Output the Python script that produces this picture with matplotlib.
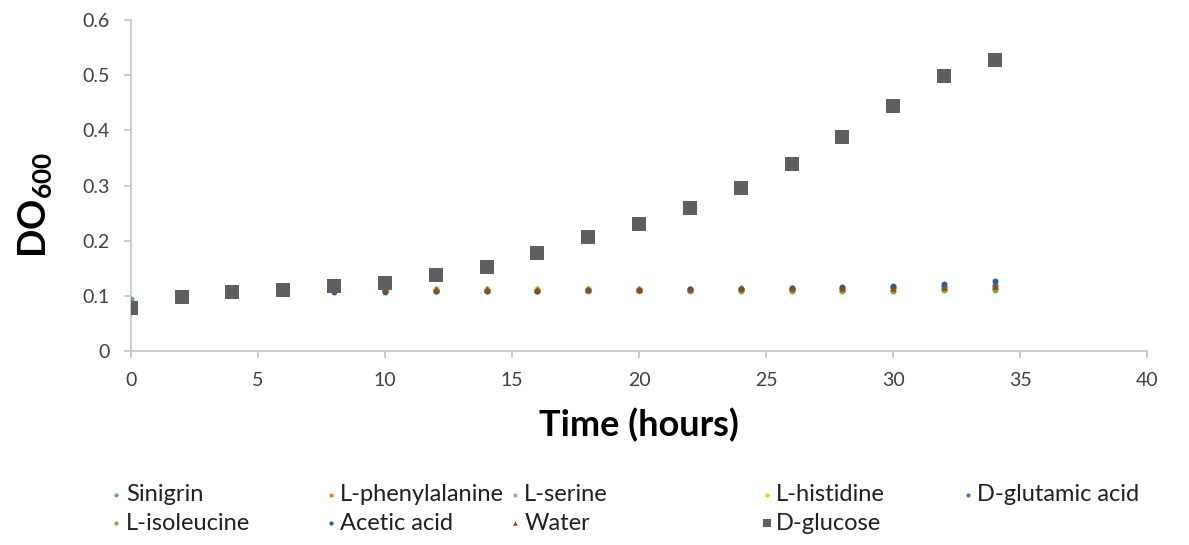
import matplotlib.pyplot as plt
from matplotlib.ticker import FormatStrFormatter

plt.rcParams['font.family'] = ['Lato', 'DejaVu Sans']
plt.rcParams['mathtext.fontset'] = 'custom'
plt.rcParams['mathtext.bf'] = 'Lato:bold'
plt.rcParams['mathtext.rm'] = 'Lato'

time = [0, 2, 4, 6, 8, 10, 12, 14, 16, 18, 20, 22, 24, 26, 28, 30, 32, 34]

sinigrin = [0.095, 0.100, 0.107, 0.108, 0.109, 0.110, 0.110, 0.110, 0.110, 0.111, 0.111, 0.112, 0.112, 0.113, 0.113, 0.114, 0.115, 0.116]
phenylalanine = [0.080, 0.100, 0.108, 0.109, 0.111, 0.112, 0.112, 0.112, 0.113, 0.113, 0.113, 0.113, 0.114, 0.114, 0.115, 0.115, 0.116, 0.117]
serine = [0.080, 0.100, 0.107, 0.108, 0.110, 0.110, 0.111, 0.111, 0.111, 0.112, 0.112, 0.112, 0.113, 0.113, 0.113, 0.114, 0.114, 0.115]
histidine = [0.080, 0.100, 0.107, 0.108, 0.110, 0.110, 0.111, 0.111, 0.112, 0.112, 0.112, 0.112, 0.113, 0.113, 0.113, 0.114, 0.114, 0.115]
glutamic = [0.080, 0.100, 0.107, 0.107, 0.108, 0.109, 0.109, 0.109, 0.109, 0.110, 0.110, 0.111, 0.112, 0.113, 0.114, 0.116, 0.118, 0.120]
isoleucine = [0.080, 0.100, 0.106, 0.107, 0.108, 0.108, 0.109, 0.109, 0.109, 0.109, 0.109, 0.108, 0.108, 0.108, 0.108, 0.109, 0.110, 0.110]
acetic = [0.080, 0.100, 0.107, 0.106, 0.107, 0.107, 0.108, 0.108, 0.109, 0.110, 0.111, 0.112, 0.113, 0.114, 0.116, 0.118, 0.122, 0.127]
water = [0.080, 0.100, 0.108, 0.109, 0.112, 0.112, 0.113, 0.112, 0.113, 0.113, 0.113, 0.113, 0.114, 0.114, 0.115, 0.115, 0.116, 0.117]
glucose = [0.078, 0.098, 0.107, 0.111, 0.118, 0.123, 0.138, 0.152, 0.178, 0.207, 0.230, 0.259, 0.295, 0.339, 0.388, 0.444, 0.498, 0.527]

names = ['Sinigrin', 'L-phenylalanine', 'L-serine', 'L-histidine', 'D-glutamic acid',
         'L-isoleucine', 'Acetic acid', 'Water', 'D-glucose']
series = [sinigrin, phenylalanine, serine, histidine, glutamic, isoleucine, acetic, water, glucose]
colors = ['#5B9BD5', '#ED7D31', '#A5A5A5', '#FFC000', '#4472C4', '#70AD47', '#255E91', '#9E480E', '#5f5f5f']
markers = ['o', 'o', 'o', 'o', 'o', 'o', 'o', '^', 's']
sizes = [18, 18, 18, 18, 18, 18, 18, 22, 95]

fig = plt.figure(figsize=(11.89, 5.45), dpi=100)
ax = fig.add_axes([0.110, 0.356, 0.855, 0.607])

handles = []
for name, ys, c, m, s in zip(names, series, colors, markers, sizes):
    h = ax.scatter(time, ys, s=s, c=c, marker=m, linewidths=0, label=name, zorder=3)
    handles.append(h)

ax.set_xlim(0, 40)
ax.set_ylim(0, 0.6)
ax.set_xticks(range(0, 41, 5))
ax.set_yticks([0, 0.1, 0.2, 0.3, 0.4, 0.5, 0.6])
ax.yaxis.set_major_formatter(FormatStrFormatter('%g'))
for sp in ['top', 'right']:
    ax.spines[sp].set_visible(False)
for sp in ['left', 'bottom']:
    ax.spines[sp].set_color('#c8c8c8')
    ax.spines[sp].set_linewidth(1.3)
ax.tick_params(colors='#c8c8c8', labelcolor='#404040', labelsize=14, length=5, width=1.3)
ax.tick_params(axis='x', pad=10)
ax.tick_params(axis='y', pad=10)
ax.set_xlabel('Time (hours)', fontsize=26, fontweight='bold', labelpad=14)
ax.set_ylabel(r'$\mathbf{DO_{600}}$', fontsize=27)
ax.yaxis.set_label_coords(-0.076, 0.44)

# legend, Excel-like: columns placed at fixed x positions
col_x = [0.095, 0.275, 0.430, 0.642, 0.811]
cols = [[0, 5], [1, 6], [2, 7], [3, 8], [4]]
for x, idx in zip(col_x, cols):
    leg = fig.legend([handles[i] for i in idx], [names[i] for i in idx],
                     loc='upper left', bbox_to_anchor=(x, 0.112), frameon=False,
                     fontsize=17, handlelength=0.3, handletextpad=0.25,
                     labelspacing=0.32, borderaxespad=0, borderpad=0,
                     markerscale=0.7)
    for t in leg.get_texts():
        t.set_color('#202020')
    if 8 in idx:
        leg.legend_handles[-1].set_sizes([28])

fig.savefig('out.png', dpi=100)
